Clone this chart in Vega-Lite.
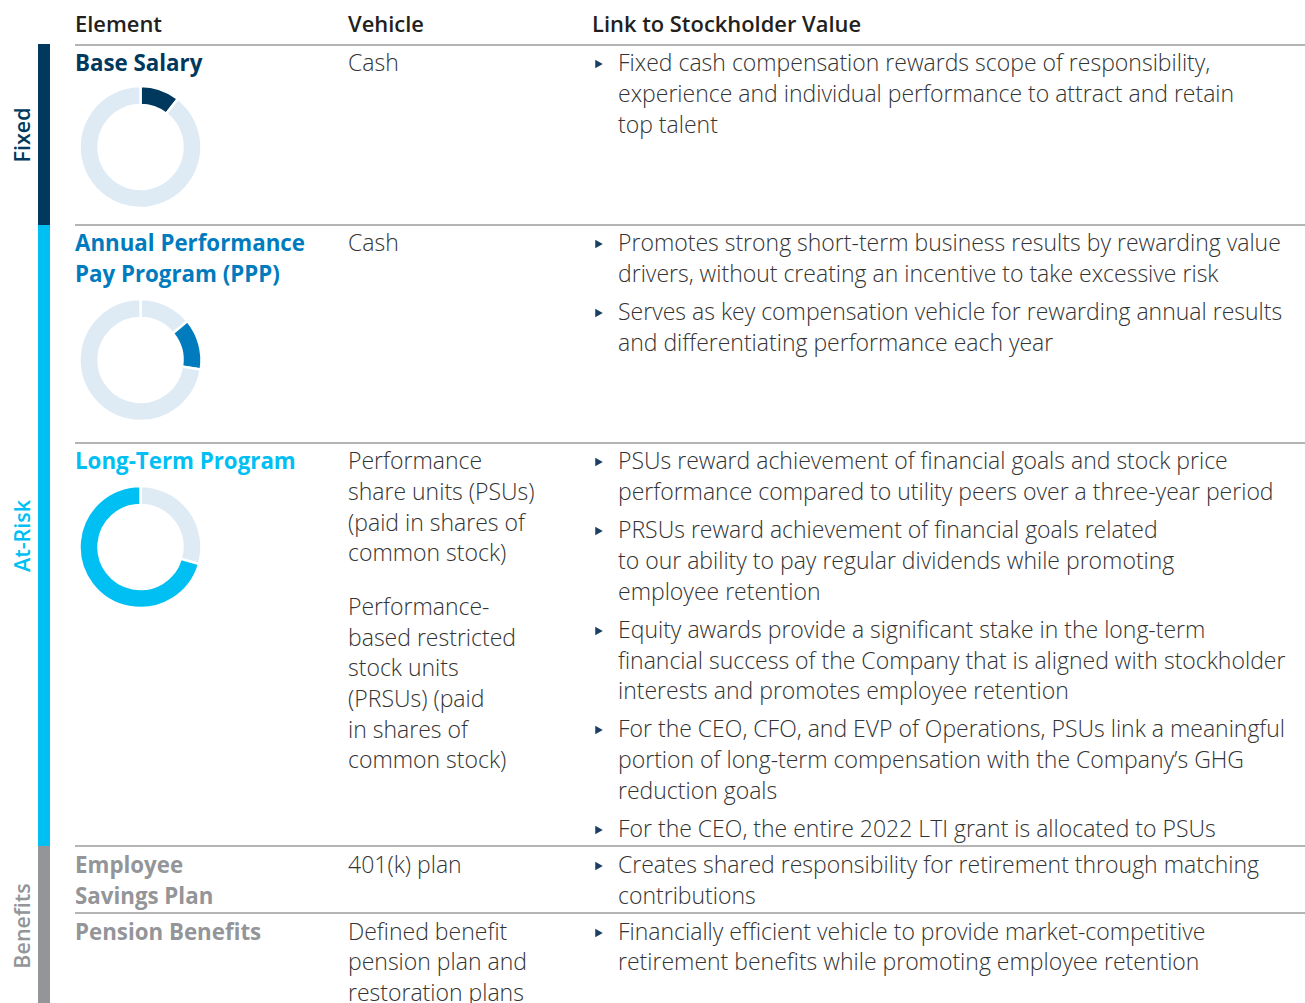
{
  "$schema": "https://vega.github.io/schema/vega-lite/v6.json",
  "width": 1305,
  "height": 1003,
  "autosize": {"type": "none"},
  "padding": 0,
  "background": "white",
  "config": {"view": {"stroke": null}, "axis": {"disable": true}, "text": {"font": "Open Sans"}},
  "datasets": {
    "groups": [
      {"group": "Fixed", "y0": 44, "y1": 225, "mid": 135},
      {"group": "At-Risk", "y0": 225, "y1": 846, "mid": 536},
      {"group": "Benefits", "y0": 846, "y1": 1003, "mid": 926}
    ],
    "dividers": [{"y": 45}, {"y": 225}, {"y": 443}, {"y": 846}, {"y": 913}],
    "headers": [
      {"text": "Element", "col": 75, "y": 32},
      {"text": "Vehicle", "col": 348, "y": 32},
      {"text": "Link to Stockholder Value", "col": 592, "y": 32}
    ],
    "titles": [
      {"element": "Base Salary", "text": "Base Salary", "y": 71},
      {"element": "Annual Performance Pay Program (PPP)", "text": "Annual Performance", "y": 251},
      {"element": "Annual Performance Pay Program (PPP)", "text": "Pay Program (PPP)", "y": 282},
      {"element": "Long-Term Program", "text": "Long-Term Program", "y": 469},
      {"element": "Employee Savings Plan", "text": "Employee", "y": 873},
      {"element": "Employee Savings Plan", "text": "Savings Plan", "y": 904},
      {"element": "Pension Benefits", "text": "Pension Benefits", "y": 940}
    ],
    "vehicle": [
      {"text": "Cash", "y": 71},
      {"text": "Cash", "y": 251},
      {"text": "Performance", "y": 469},
      {"text": "share units (PSUs)", "y": 500},
      {"text": "(paid in shares of", "y": 531},
      {"text": "common stock)", "y": 561},
      {"text": "Performance-", "y": 615},
      {"text": "based restricted", "y": 646},
      {"text": "stock units", "y": 676},
      {"text": "(PRSUs) (paid", "y": 707},
      {"text": "in shares of", "y": 738},
      {"text": "common stock)", "y": 768},
      {"text": "401(k) plan", "y": 873},
      {"text": "Defined benefit", "y": 940},
      {"text": "pension plan and", "y": 970},
      {"text": "restoration plans", "y": 1001}
    ],
    "link": [
      {"text": "Fixed cash compensation rewards scope of responsibility,", "y": 71},
      {"text": "experience and individual performance to attract and retain", "y": 102},
      {"text": "top talent", "y": 133},
      {"text": "Promotes strong short-term business results by rewarding value", "y": 251},
      {"text": "drivers, without creating an incentive to take excessive risk", "y": 282},
      {"text": "Serves as key compensation vehicle for rewarding annual results", "y": 320},
      {"text": "and differentiating performance each year", "y": 351},
      {"text": "PSUs reward achievement of financial goals and stock price", "y": 469},
      {"text": "performance compared to utility peers over a three-year period", "y": 500},
      {"text": "PRSUs reward achievement of financial goals related", "y": 538},
      {"text": "to our ability to pay regular dividends while promoting", "y": 569},
      {"text": "employee retention", "y": 600},
      {"text": "Equity awards provide a significant stake in the long-term", "y": 638},
      {"text": "financial success of the Company that is aligned with stockholder", "y": 669},
      {"text": "interests and promotes employee retention", "y": 699},
      {"text": "For the CEO, CFO, and EVP of Operations, PSUs link a meaningful", "y": 737},
      {"text": "portion of long-term compensation with the Company’s GHG", "y": 768},
      {"text": "reduction goals", "y": 799},
      {"text": "For the CEO, the entire 2022 LTI grant is allocated to PSUs", "y": 837},
      {"text": "Creates shared responsibility for retirement through matching", "y": 873},
      {"text": "contributions", "y": 904},
      {"text": "Financially efficient vehicle to provide market-competitive", "y": 940},
      {"text": "retirement benefits while promoting employee retention", "y": 970}
    ],
    "bullets": [{"y": 64}, {"y": 244}, {"y": 313}, {"y": 462}, {"y": 531}, {"y": 631}, {"y": 730}, {"y": 830}, {"y": 866}, {"y": 933}],
    "donutBase": [
      {"segment": "Base Salary", "pct": 10.5, "k": 1},
      {"segment": "Rest", "pct": 89.5, "k": 2}
    ],
    "donutPPP": [
      {"segment": "Rest", "pct": 14, "k": 1},
      {"segment": "Annual Performance Pay Program (PPP)", "pct": 13.5, "k": 2},
      {"segment": "Rest", "pct": 72.5, "k": 3}
    ],
    "donutLTP": [
      {"segment": "Rest", "pct": 29.5, "k": 1},
      {"segment": "Long-Term Program", "pct": 70.5, "k": 2}
    ]
  },
  "layer": [
    {
      "data": {"name": "groups"},
      "mark": {"type": "rect"},
      "encoding": {
        "x": {"datum": 38, "type": "quantitative", "scale": {"domain": [0, 1305], "range": [0, 1305], "nice": false, "zero": false}},
        "x2": {"datum": 50},
        "y": {"field": "y0", "type": "quantitative", "scale": {"domain": [0, 1003], "range": [0, 1003], "nice": false, "zero": false}},
        "y2": {"field": "y1"},
        "color": {
          "field": "group", "type": "nominal", "legend": null,
          "scale": {
            "domain": ["Fixed", "At-Risk", "Benefits", "Base Salary", "Annual Performance Pay Program (PPP)", "Long-Term Program", "Employee Savings Plan", "Pension Benefits", "Rest"],
            "range": ["#00395D", "#00BFF3", "#939598", "#00395D", "#007BBD", "#00BFF3", "#939598", "#939598", "#DEEBF5"]
          }
        }
      }
    },
    {
      "data": {"name": "groups"},
      "mark": {"type": "text", "angle": 270, "align": "center", "baseline": "middle", "fontSize": 21.5, "fontWeight": 600},
      "encoding": {
        "x": {"datum": 24, "type": "quantitative"},
        "y": {"field": "mid", "type": "quantitative"},
        "text": {"field": "group"},
        "color": {"field": "group", "type": "nominal", "legend": null}
      }
    },
    {
      "data": {"name": "dividers"},
      "mark": {"type": "rule", "stroke": "#B4B4B4", "strokeWidth": 2},
      "encoding": {
        "x": {"datum": 75, "type": "quantitative"},
        "x2": {"datum": 1305},
        "y": {"field": "y", "type": "quantitative"}
      }
    },
    {
      "data": {"name": "headers"},
      "mark": {"type": "text", "align": "left", "baseline": "alphabetic", "fontSize": 21.9, "fontWeight": 600, "color": "#231F20"},
      "encoding": {
        "x": {"field": "col", "type": "quantitative"},
        "y": {"field": "y", "type": "quantitative"},
        "text": {"field": "text"}
      }
    },
    {
      "data": {"name": "titles"},
      "mark": {"type": "text", "align": "left", "baseline": "alphabetic", "fontSize": 22.3, "fontWeight": 700},
      "encoding": {
        "x": {"datum": 75, "type": "quantitative"},
        "y": {"field": "y", "type": "quantitative"},
        "text": {"field": "text"},
        "color": {"field": "element", "type": "nominal", "legend": null}
      }
    },
    {
      "data": {"name": "vehicle"},
      "mark": {"type": "text", "align": "left", "baseline": "alphabetic", "fontSize": 23, "fontWeight": 300, "color": "#333333"},
      "encoding": {
        "x": {"datum": 348, "type": "quantitative"},
        "y": {"field": "y", "type": "quantitative"},
        "text": {"field": "text"}
      }
    },
    {
      "data": {"name": "link"},
      "mark": {"type": "text", "align": "left", "baseline": "alphabetic", "fontSize": 23, "fontWeight": 300, "color": "#333333"},
      "encoding": {
        "x": {"datum": 618, "type": "quantitative"},
        "y": {"field": "y", "type": "quantitative"},
        "text": {"field": "text"}
      }
    },
    {
      "data": {"name": "bullets"},
      "mark": {"type": "point", "shape": "triangle-right", "filled": true, "size": 75, "color": "#1B3F63", "opacity": 1},
      "encoding": {
        "x": {"datum": 599, "type": "quantitative"},
        "y": {"field": "y", "type": "quantitative"}
      }
    },
    {
      "data": {"name": "donutBase"},
      "mark": {"type": "arc", "innerRadius": 42, "outerRadius": 61, "stroke": "white", "strokeWidth": 2.5},
      "encoding": {
        "x": {"datum": 140.5, "type": "quantitative"},
        "y": {"datum": 147, "type": "quantitative"},
        "theta": {"field": "pct", "type": "quantitative", "stack": true},
        "order": {"field": "k", "type": "quantitative"},
        "color": {"field": "segment", "type": "nominal", "legend": null}
      }
    },
    {
      "data": {"name": "donutPPP"},
      "mark": {"type": "arc", "innerRadius": 42, "outerRadius": 61, "stroke": "white", "strokeWidth": 2.5},
      "encoding": {
        "x": {"datum": 140.5, "type": "quantitative"},
        "y": {"datum": 360, "type": "quantitative"},
        "theta": {"field": "pct", "type": "quantitative", "stack": true},
        "order": {"field": "k", "type": "quantitative"},
        "color": {"field": "segment", "type": "nominal", "legend": null}
      }
    },
    {
      "data": {"name": "donutLTP"},
      "mark": {"type": "arc", "innerRadius": 42, "outerRadius": 61, "stroke": "white", "strokeWidth": 2.5},
      "encoding": {
        "x": {"datum": 140.5, "type": "quantitative"},
        "y": {"datum": 547, "type": "quantitative"},
        "theta": {"field": "pct", "type": "quantitative", "stack": true},
        "order": {"field": "k", "type": "quantitative"},
        "color": {"field": "segment", "type": "nominal", "legend": null}
      }
    }
  ]
}
